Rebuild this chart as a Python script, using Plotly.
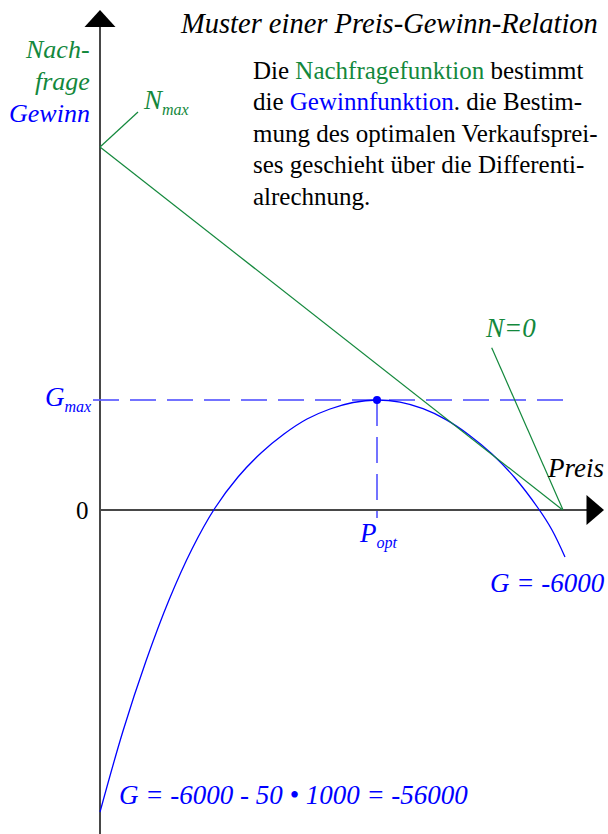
import plotly.graph_objects as go

# Koordinaten: Preis nach rechts, Nachfrage/Gewinn nach oben (schematische Einheiten)
gewinn_preis = [0, 23, 46, 69, 92, 115, 138, 161, 184, 207, 230, 253, 277,
                300, 323, 346, 369, 392, 415, 438, 452, 465]
gewinn_wert = [-302, -221, -151, -90, -39, 2, 33, 57, 76, 91, 101, 107.5, 110,
               107.8, 101.3, 90.4, 75.1, 56, 32, 2, -20, -47]

nachfrage_preis = [0, 462.7]
nachfrage_wert = [363, 0]

nmax_leader_x = [0, 38]
nmax_leader_y = [363, 398]
n0_leader_x = [462.7, 391.7]
n0_leader_y = [0.7, 162.3]

p_opt = 277
g_max = 110

GREEN = '#13883c'
BLUE = '#0000ff'
DASH_BLUE = 'rgba(90,90,255,0.85)'
AXIS = '#474747'
SERIF = 'Liberation Serif'

fig = go.Figure()

# Hilfslinien G_max und P_opt
fig.add_trace(go.Scatter(x=[-7, 465], y=[g_max, g_max], mode='lines',
                         line=dict(color=DASH_BLUE, width=2, dash='26px,11px'), hoverinfo='skip'))
fig.add_trace(go.Scatter(x=[p_opt, p_opt], y=[g_max, -8], mode='lines',
                         line=dict(color=DASH_BLUE, width=2, dash='26px,11px'), hoverinfo='skip'))

# Gewinnfunktion
fig.add_trace(go.Scatter(x=gewinn_preis, y=gewinn_wert, mode='lines',
                         line=dict(color=BLUE, width=1.3, shape='spline', smoothing=1.0)))

# Nachfragefunktion und Beschriftungslinien
fig.add_trace(go.Scatter(x=nachfrage_preis, y=nachfrage_wert, mode='lines', line=dict(color=GREEN, width=1.2)))
fig.add_trace(go.Scatter(x=nmax_leader_x, y=nmax_leader_y, mode='lines', line=dict(color=GREEN, width=1.2)))
fig.add_trace(go.Scatter(x=n0_leader_x, y=n0_leader_y, mode='lines', line=dict(color=GREEN, width=1.2)))

# Optimum
fig.add_trace(go.Scatter(x=[p_opt], y=[g_max], mode='markers', marker=dict(color=BLUE, size=8)))

shapes = [
    dict(type='line', x0=0, y0=-330, x1=0, y1=484, line=dict(color=AXIS, width=2), layer='below'),
    dict(type='line', x0=0, y0=0, x1=488, y1=0, line=dict(color=AXIS, width=2), layer='below'),
    dict(type='path', path='M -15.5,483 L 0,500 L 15.5,483 Z', fillcolor='black', line=dict(width=0)),
    dict(type='path', path='M 486.5,15 L 504,0 L 486.5,-15 Z', fillcolor='black', line=dict(width=0)),
]


def txt(x, y, text, size=27, color='black', italic=True, xanchor='left'):
    fig.add_annotation(x=x, y=y, text=text, showarrow=False, xanchor=xanchor, yanchor='middle',
                       font=dict(family=SERIF, size=size, color=color, style='italic' if italic else 'normal'))


def sub(s):
    return '<sub><span style="font-size:16px">%s</span></sub>' % s


txt(500, 487, 'Muster einer Preis-Gewinn-Relation', size=28.5, xanchor='right')
txt(-8, 461, 'Nach-', size=26, color=GREEN, xanchor='right')
txt(-8, 429, 'frage', size=26, color=GREEN, xanchor='right')
txt(-8, 397, 'Gewinn', size=26, color=BLUE, xanchor='right')
txt(41, 409, 'N' + sub('max'), color=GREEN)
txt(383, 182, 'N=0', color=GREEN)
txt(506, 42, 'Preis', xanchor='right')
txt(-7, 112, 'G' + sub('max'), color=BLUE, xanchor='right')
txt(-9, 0, '0', size=25, italic=False, xanchor='right')
txt(257, -25, 'P' + sub('opt'), color=BLUE)
txt(507, -73, 'G = -6000', color=BLUE, xanchor='right')
txt(17, -285, 'G = -6000 - 50 \u2022 1000 = -56000', color=BLUE)

para = [
    'Die <span style="color:%s">Nachfragefunktion</span> bestimmt' % GREEN,
    'die <span style="color:%s">Gewinnfunktion</span>. die Bestim-' % BLUE,
    'mung des optimalen Verkaufsprei-',
    'ses geschieht \u00fcber die Differenti-',
    'alrechnung.',
]
for i, line in enumerate(para):
    txt(151, 440 - i * 31.5, line, size=25, italic=False)

# ganze Seite nutzen: 1 Einheit = 1 Pixel
fig.update_layout(
    width=608, height=834, margin=dict(l=0, r=0, t=0, b=0),
    showlegend=False, plot_bgcolor='white', paper_bgcolor='white',
    xaxis=dict(range=[-100, 508], visible=False, fixedrange=True),
    yaxis=dict(range=[-324, 510], visible=False, fixedrange=True),
    shapes=shapes,
)

fig.write_html("out.html", config={'displayModeBar': False},
               post_script="document.body.style.margin='0';document.body.style.overflow='hidden';")
